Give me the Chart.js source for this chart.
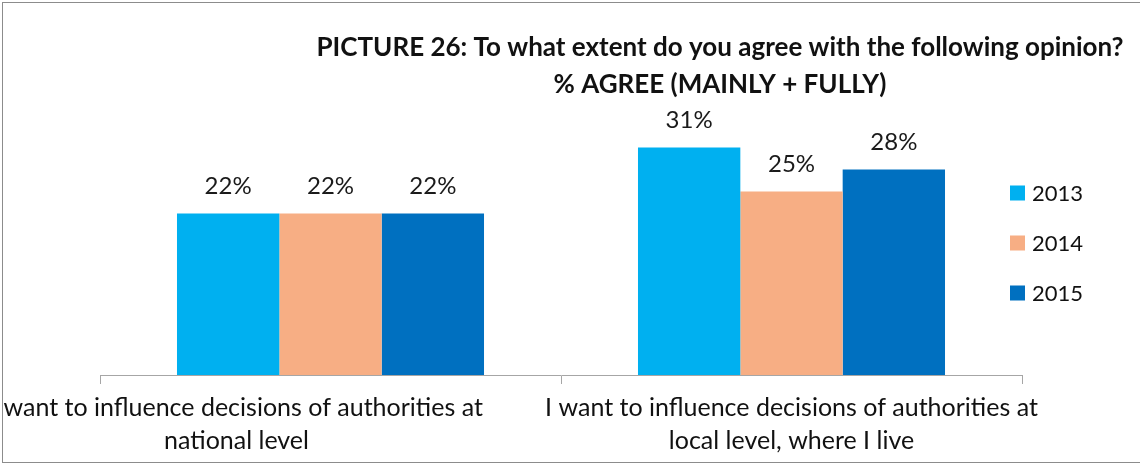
<!DOCTYPE html>
<html lang="en">
<head>
<meta charset="UTF-8">
<title>Picture 26</title>
<script src="https://cdn.jsdelivr.net/npm/chart.js"></script>
<style>
  html, body { margin: 0; padding: 0; background: #fff; }
  #wrap { width: 1140px; height: 465px; position: relative; }
</style>
</head>
<body>
<div id="wrap"><canvas id="chart"></canvas></div>
<script>
// data
const categories = [
    ['I want to influence decisions of authorities at', 'national level'],
    ['I want to influence decisions of authorities at', 'local level, where I live']
];
const years = ['2013', '2014', '2015'];
const values2013 = [22, 31];
const values2014 = [22, 25];
const values2015 = [22, 28];
const titleLines = ['PICTURE 26: To what extent do you agree with the following opinion?', '% AGREE (MAINLY + FULLY)'];

const colors = ['#00B0F0', '#F7AE84', '#0070C0'];
const FONT = 'Lato, "Open Sans", sans-serif';

// frame around the chart
const framePlugin = {
    id: 'frame',
    beforeDraw(chart) {
        const ctx = chart.ctx;
        ctx.save();
        ctx.strokeStyle = '#8c8c8c';
        ctx.lineWidth = 1;
        ctx.strokeRect(2.5, 2.5, 1150, 460);
        ctx.restore();
    }
};

// title, both lines centred on the same point
const titlePlugin = {
    id: 'titleLines',
    afterDraw(chart) {
        const ctx = chart.ctx;
        ctx.save();
        ctx.font = 'bold 26px ' + FONT;
        ctx.fillStyle = '#111';
        ctx.textAlign = 'center';
        ctx.textBaseline = 'middle';
        titleLines.forEach((line, i) => ctx.fillText(line, 720, 48 + i * 37));
        ctx.restore();
    }
};

// values above bars
const valueLabels = {
    id: 'valueLabels',
    afterDatasetsDraw(chart) {
        const ctx = chart.ctx;
        ctx.save();
        ctx.font = '24px ' + FONT;
        ctx.fillStyle = '#1a1a1a';
        ctx.textAlign = 'center';
        ctx.textBaseline = 'middle';
        chart.data.datasets.forEach((ds, i) => {
            chart.getDatasetMeta(i).data.forEach((bar, j) => {
                ctx.fillText(ds.data[j] + '%', bar.x, bar.y - 27);
            });
        });
        ctx.restore();
    }
};

// category labels under the axis (the first one is pushed left like in the original)
const categoryLabels = {
    id: 'categoryLabels',
    afterDraw(chart) {
        const ctx = chart.ctx;
        const x = chart.scales.x;
        const shift = [-94, 0];
        ctx.save();
        ctx.font = '25px ' + FONT;
        ctx.fillStyle = '#111';
        ctx.textAlign = 'center';
        ctx.textBaseline = 'middle';
        categories.forEach((lines, i) => {
            const cx = x.getPixelForValue(i) + shift[i];
            lines.forEach((line, k) => {
                ctx.fillText(line, cx, 408 + k * 33);
            });
        });
        ctx.restore();
    }
};

// legend on the right
const sideLegend = {
    id: 'sideLegend',
    afterDraw(chart) {
        const ctx = chart.ctx;
        const area = chart.chartArea;
        const mid = (area.top + area.bottom) / 2 - 3;
        ctx.save();
        ctx.font = '22px ' + FONT;
        ctx.textBaseline = 'middle';
        ctx.textAlign = 'left';
        chart.data.datasets.forEach((ds, i) => {
            const y = mid + (i - 1) * 50;
            ctx.fillStyle = ds.backgroundColor;
            ctx.fillRect(1010, y - 7, 15, 15);
            ctx.fillStyle = '#111';
            ctx.fillText(ds.label, 1032, y + 1);
        });
        ctx.restore();
    }
};

const ctx = document.getElementById('chart').getContext('2d');
new Chart(ctx, {
    type: 'bar',
    data: {
        labels: categories,
        datasets: [
            { label: years[0], data: values2013, backgroundColor: colors[0] },
            { label: years[1], data: values2014, backgroundColor: colors[1] },
            { label: years[2], data: values2015, backgroundColor: colors[2] }
        ]
    },
    options: {
        responsive: true,
        maintainAspectRatio: false,
        animation: false,
        devicePixelRatio: 1,
        layout: { padding: { left: 100, right: 12, top: 116, bottom: 0 } },
        datasets: {
            bar: { barPercentage: 1.0, categoryPercentage: 0.666 }
        },
        plugins: {
            legend: { display: false },
            tooltip: { enabled: false },
            title: { display: false }
        },
        scales: {
            x: {
                grid: {
                    display: true,
                    offset: true,
                    drawOnChartArea: false,
                    drawTicks: true,
                    tickLength: 9,
                    color: '#a6a6a6'
                },
                border: { display: true, color: '#a6a6a6' },
                ticks: { display: false },
                afterFit(scale) { scale.height = 90; }
            },
            y: {
                display: false,
                min: 0,
                max: 35.3
            },
            side: {
                position: 'right',
                display: true,
                grid: { display: false },
                border: { display: false },
                ticks: { display: false },
                afterFit(scale) { scale.width = 106; }
            }
        }
    },
    plugins: [framePlugin, titlePlugin, valueLabels, categoryLabels, sideLegend]
});
</script>
</body>
</html>
